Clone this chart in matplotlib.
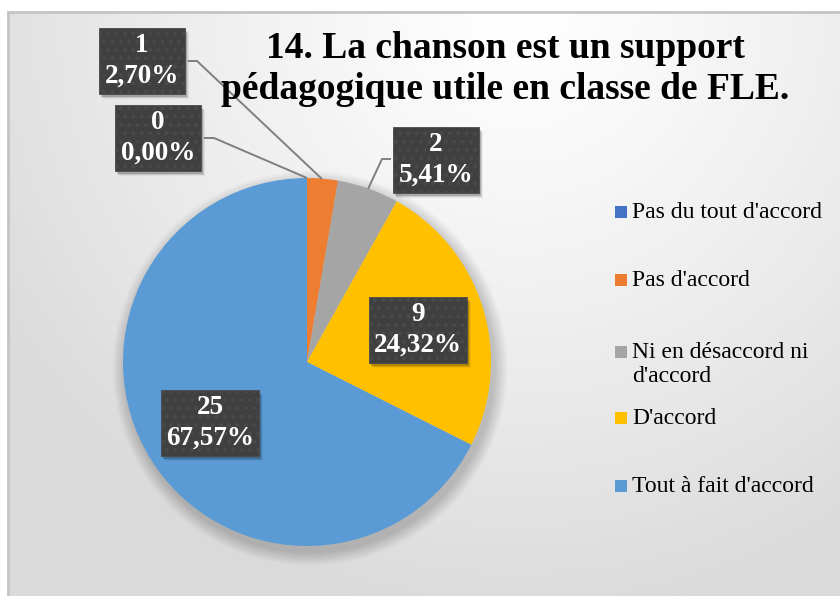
import numpy as np
import matplotlib
matplotlib.use("Agg")
import matplotlib.pyplot as plt
from matplotlib.patches import Rectangle, Circle

# ---- data ----
categories = ["Pas du tout d'accord", "Pas d'accord", "Ni en désaccord ni\nd'accord",
              "D'accord", "Tout à fait d'accord"]
values = [0, 1, 2, 9, 25]
colors = ["#4472C4", "#ED7D31", "#A5A5A5", "#FFC000", "#5B9BD5"]
title = "14. La chanson est un support\npédagogique utile en classe de FLE."

# ---- layout (pixel coordinates, y measured from top) ----
W, H = 840, 596
pie_center = (307, 362)
pie_radius = 184
label_xy = [(158, 138), (142, 61), (436, 160), (418, 330), (210, 423)]
leader = {0: [(204, 138), (214, 138), (307, 178)],
          1: [(188, 61), (197, 61), (322, 179)],
          2: [(391, 159), (382, 159), (368, 189)]}
legend_x, legend_y = [615, 632], [212, 280, 352, 418, 486]

serif = "Liberation Serif"
plt.rcParams["hatch.linewidth"] = 1.6

fig = plt.figure(figsize=(W / 100, H / 100), dpi=100)
ax = fig.add_axes([0, 0, 1, 1])


def Y(y):
    return H - y


# background gradient within frame
fx0, fy0 = 8, 12
gx = np.linspace(fx0, W, 400)
gy = np.linspace(fy0, H, 300)
XX, YY = np.meshgrid(gx, gy)
d = np.sqrt((XX - 520) ** 2 + (YY - 10) ** 2)
t = np.clip(d / 620.0, 0, 1) ** 1.2
val = 1.0 + (0.855 - 1.0) * t
img = np.dstack([val, val, val])
ax.imshow(img, extent=(fx0, W, Y(H), Y(fy0)), origin="upper", zorder=0, aspect="auto")
ax.add_patch(Rectangle((fx0, Y(H) - 5), W - fx0 + 10, H - fy0 + 5, fill=False,
                       edgecolor="#c4c4c4", linewidth=2, zorder=1))

# pie shadow
cx, cy = pie_center[0], Y(pie_center[1])
for k in range(1, 16):
    ax.add_patch(Circle((cx + 3, cy - 6), pie_radius + k * 0.9, color="black",
                        alpha=0.010, linewidth=0, zorder=2))

wedges, _ = ax.pie(values, colors=colors, startangle=90, counterclock=False,
                   center=(cx, cy), radius=pie_radius,
                   wedgeprops=dict(linewidth=0))
for w in wedges:
    w.set_zorder(3)
ax.set_xlim(0, W)
ax.set_ylim(0, H)
ax.set_aspect("equal")
ax.axis("off")

# leader lines
for i, pts in leader.items():
    xs = [p[0] for p in pts]
    ys = [Y(p[1]) for p in pts]
    ax.plot(xs, ys, color="#7f7f7f", linewidth=1.4, zorder=4, solid_capstyle="butt")

# data labels
total = sum(values)
label_texts = []
for i, v in enumerate(values):
    pct = v / total * 100
    txt = f"{v}\n{pct:.2f}%".replace(".", ",")
    x, y = label_xy[i]
    tt = ax.text(x, Y(y), txt, ha="center", va="center", fontsize=19.5,
                 fontfamily=serif, fontweight="bold", color="white",
                 linespacing=1.3, zorder=6,
                 bbox=dict(boxstyle="square,pad=0.2", facecolor="#404040",
                           edgecolor="#4a4a4a", linewidth=0.6, hatch=".."))
    label_texts.append(tt)

# shadows behind label boxes
fig.canvas.draw()
inv = ax.transData.inverted()
for tt in label_texts:
    bb = tt.get_bbox_patch().get_window_extent()
    (x0, y0), (x1, y1) = inv.transform([(bb.x0, bb.y0), (bb.x1, bb.y1)])
    for k, a in enumerate([0.18, 0.10, 0.05]):
        ax.add_patch(Rectangle((x0 + 2 + k, y0 - 3 - k), x1 - x0, y1 - y0,
                               facecolor="black", alpha=a, linewidth=0, zorder=5))

# title
ax.text(505, Y(69), title, ha="center", va="center", fontsize=27,
        fontfamily=serif, fontweight="bold", color="black", linespacing=1.22, zorder=7)

# legend
for i, (lab, c) in enumerate(zip(categories, colors)):
    ly = legend_y[i]
    ax.add_patch(Rectangle((legend_x[0], Y(ly) - 6), 12, 12, facecolor=c,
                           edgecolor="none", zorder=7))
    for j, line in enumerate(lab.split("\n")):
        ax.text(legend_x[1], Y(ly + 24 * j), line, ha="left", va="center", fontsize=17,
                fontfamily=serif, color="black", zorder=7)

fig.savefig("out.png", dpi=100)
